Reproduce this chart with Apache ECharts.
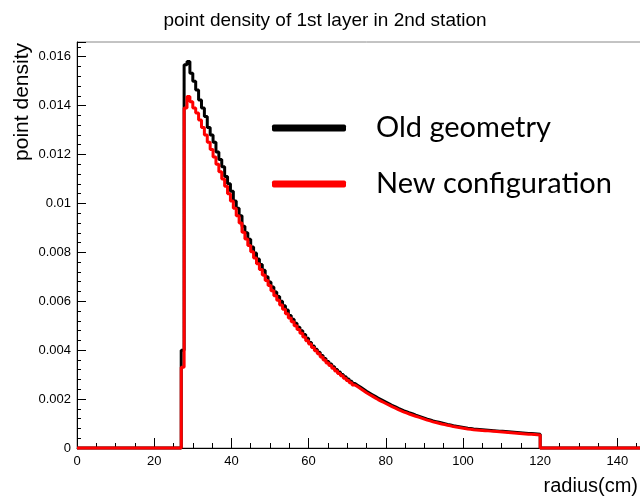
<!DOCTYPE html>
<html>
<head>
<meta charset="utf-8">
<script src="https://cdn.jsdelivr.net/npm/echarts@6/dist/echarts.min.js"></script>
<style>
html,body{margin:0;padding:0;background:#fff;overflow:hidden;width:640px;height:502px;}
#chart{width:656px;height:502px;}
</style>
</head>
<body>
<div id="chart"></div>
<script>
// Histogram definition (radius in cm)
const histMin = 0;
const histMax = 150;
const firstFilledEdge = 27;   // left edge of first non-empty bin
const binWidth = 0.75;

const seriesNames = ['Old geometry', 'New configuration'];

// point density per bin, starting at firstFilledEdge
const oldGeometry = [
  0.0040, 0.01567, 0.0158, 0.01532, 0.0150, 0.01464, 0.01423, 0.0139, 0.01355, 0.0131,
  0.0128, 0.0125, 0.0121, 0.0118, 0.0115, 0.0111, 0.0108, 0.0105, 0.0101, 0.0098,
  0.0095, 0.00907, 0.00880, 0.00853, 0.00822, 0.00797, 0.00773, 0.00750, 0.00727, 0.00700,
  0.00679, 0.00658, 0.00638, 0.00619, 0.00600, 0.00582, 0.00564, 0.00542, 0.00526, 0.00510,
  0.00494, 0.00479, 0.00464, 0.00449, 0.00431, 0.00417, 0.00404, 0.00391, 0.00378, 0.00366,
  0.00354, 0.00343, 0.00332, 0.00321, 0.00311, 0.00301, 0.00291, 0.00282, 0.00273, 0.00264,
  0.00256, 0.00248, 0.00240, 0.00232, 0.00225, 0.00218, 0.00211, 0.00204, 0.00198, 0.00192,
  0.00186, 0.00180, 0.00173, 0.00168, 0.00162, 0.00157, 0.00152, 0.00148, 0.00143, 0.00139,
  0.00134, 0.00130, 0.00126, 0.00122, 0.00118, 0.00115, 0.00111, 0.00108, 0.00105, 0.00102,
  0.00099, 0.00096, 0.00094, 0.00091, 0.00089, 0.00087, 0.00085, 0.00083, 0.00081, 0.00080,
  0.00078, 0.00077, 0.00076, 0.00075, 0.00074, 0.00073, 0.00072, 0.00071, 0.00070, 0.00069,
  0.00068, 0.00067, 0.00066, 0.00065, 0.00064, 0.00063, 0.00062, 0.00061, 0.00060, 0.00059,
  0.00059, 0.00058, 0.00057, 0.00056
];
const newConfiguration = [
  0.0033, 0.0139, 0.01437, 0.01416, 0.0139, 0.0137, 0.01341, 0.0131, 0.0128, 0.0125,
  0.0122, 0.0119, 0.0116, 0.0113, 0.0110, 0.0107, 0.0104, 0.0101, 0.0098, 0.0095,
  0.0092, 0.00882, 0.00855, 0.00828, 0.00802, 0.00777, 0.00753, 0.00730, 0.00707, 0.00685,
  0.00664, 0.00643, 0.00623, 0.00604, 0.00585, 0.00567, 0.00549, 0.00532, 0.00516, 0.00500,
  0.00484, 0.00469, 0.00454, 0.00439, 0.00425, 0.00411, 0.00398, 0.00385, 0.00372, 0.00360,
  0.00348, 0.00337, 0.00326, 0.00315, 0.00305, 0.00295, 0.00285, 0.00276, 0.00267, 0.00258,
  0.00250, 0.00242, 0.00234, 0.00226, 0.00219, 0.00212, 0.00205, 0.00198, 0.00192, 0.00186,
  0.00180, 0.00174, 0.00168, 0.00163, 0.00157, 0.00152, 0.00147, 0.00143, 0.00138, 0.00134,
  0.00130, 0.00126, 0.00122, 0.00118, 0.00114, 0.00111, 0.00107, 0.00104, 0.00101, 0.00098,
  0.00096, 0.00093, 0.00091, 0.00088, 0.00086, 0.00084, 0.00082, 0.00080, 0.00078, 0.00077,
  0.00075, 0.00074, 0.00073, 0.00072, 0.00071, 0.00070, 0.00069, 0.00068, 0.00067, 0.00066,
  0.00065, 0.00064, 0.00063, 0.00062, 0.00061, 0.00060, 0.00059, 0.00058, 0.00057, 0.00056,
  0.00056, 0.00055, 0.00054, 0.00053
];

const titleText = 'point density of 1st layer in 2nd station';
const xAxisTitle = 'radius(cm)';
const yAxisTitle = 'point density';

function histPoints(values) {
  const pts = [[histMin, 0]];
  values.forEach((v, i) => pts.push([firstFilledEdge + i * binWidth, v]));
  pts.push([firstFilledEdge + values.length * binWidth, 0]);
  pts.push([histMax, 0]);
  return pts;
}

const chart = echarts.init(document.getElementById('chart'), null, {renderer: 'canvas'});
const labelFont = {color: '#000', fontFamily: 'Liberation Sans', fontSize: 13};

chart.setOption({
  animation: false,
  backgroundColor: '#fff',
  title: {
    text: titleText, left: 320, textAlign: 'center', top: 6,
    textStyle: {fontFamily: 'Liberation Sans', fontWeight: 'normal', fontSize: 19, color: '#000'}
  },
  grid: {left: 77, top: 42, bottom: 54, right: 0, show: true, borderColor: '#888', borderWidth: 1},
  legend: {
    orient: 'vertical', left: 272, top: 113, padding: 0,
    icon: 'roundRect', itemWidth: 74, itemHeight: 7, itemGap: 26,
    data: seriesNames,
    textStyle: {fontFamily: 'Lato', fontSize: 29, color: '#000', lineHeight: 30, padding: [0, 0, 0, 25]}
  },
  xAxis: {
    type: 'value', min: histMin, max: histMax, interval: 20,
    axisLine: {show: true, lineStyle: {color: '#000', width: 1}},
    axisTick: {show: true, inside: true, length: 10, lineStyle: {color: '#000'}},
    minorTick: {show: true, splitNumber: 4, length: 5, lineStyle: {color: '#000'}},
    axisLabel: Object.assign({margin: 7, showMaxLabel: false}, labelFont),
    splitLine: {show: false}
  },
  yAxis: {
    type: 'value', min: 0, max: 0.0166, interval: 0.002,
    axisLine: {show: true, lineStyle: {color: '#000', width: 1}},
    axisTick: {show: true, inside: true, length: 9, lineStyle: {color: '#000'}},
    minorTick: {show: true, splitNumber: 5, length: 4, lineStyle: {color: '#000'}},
    axisLabel: Object.assign({margin: 6, showMaxLabel: false, formatter: v => String(+v.toFixed(4))}, labelFont),
    splitLine: {show: false}
  },
  graphic: [
    {type: 'text', x: 638, y: 476,
     style: {text: xAxisTitle, fontFamily: 'Liberation Sans', fontSize: 20, fill: '#000', align: 'right'}},
    {type: 'text', x: 22, y: 43, rotation: Math.PI / 2,
     style: {text: yAxisTitle, fontFamily: 'Liberation Sans', fontSize: 21, fill: '#000', align: 'right', verticalAlign: 'middle'}}
  ],
  series: [
    {name: seriesNames[0], type: 'line', step: 'end', showSymbol: false, clip: false,
     color: '#000', lineStyle: {color: '#000', width: 3}, data: histPoints(oldGeometry), z: 2},
    {name: seriesNames[1], type: 'line', step: 'end', showSymbol: false, clip: false,
     color: '#ff0000', lineStyle: {color: '#ff0000', width: 3}, data: histPoints(newConfiguration), z: 3}
  ]
});
</script>
</body>
</html>
